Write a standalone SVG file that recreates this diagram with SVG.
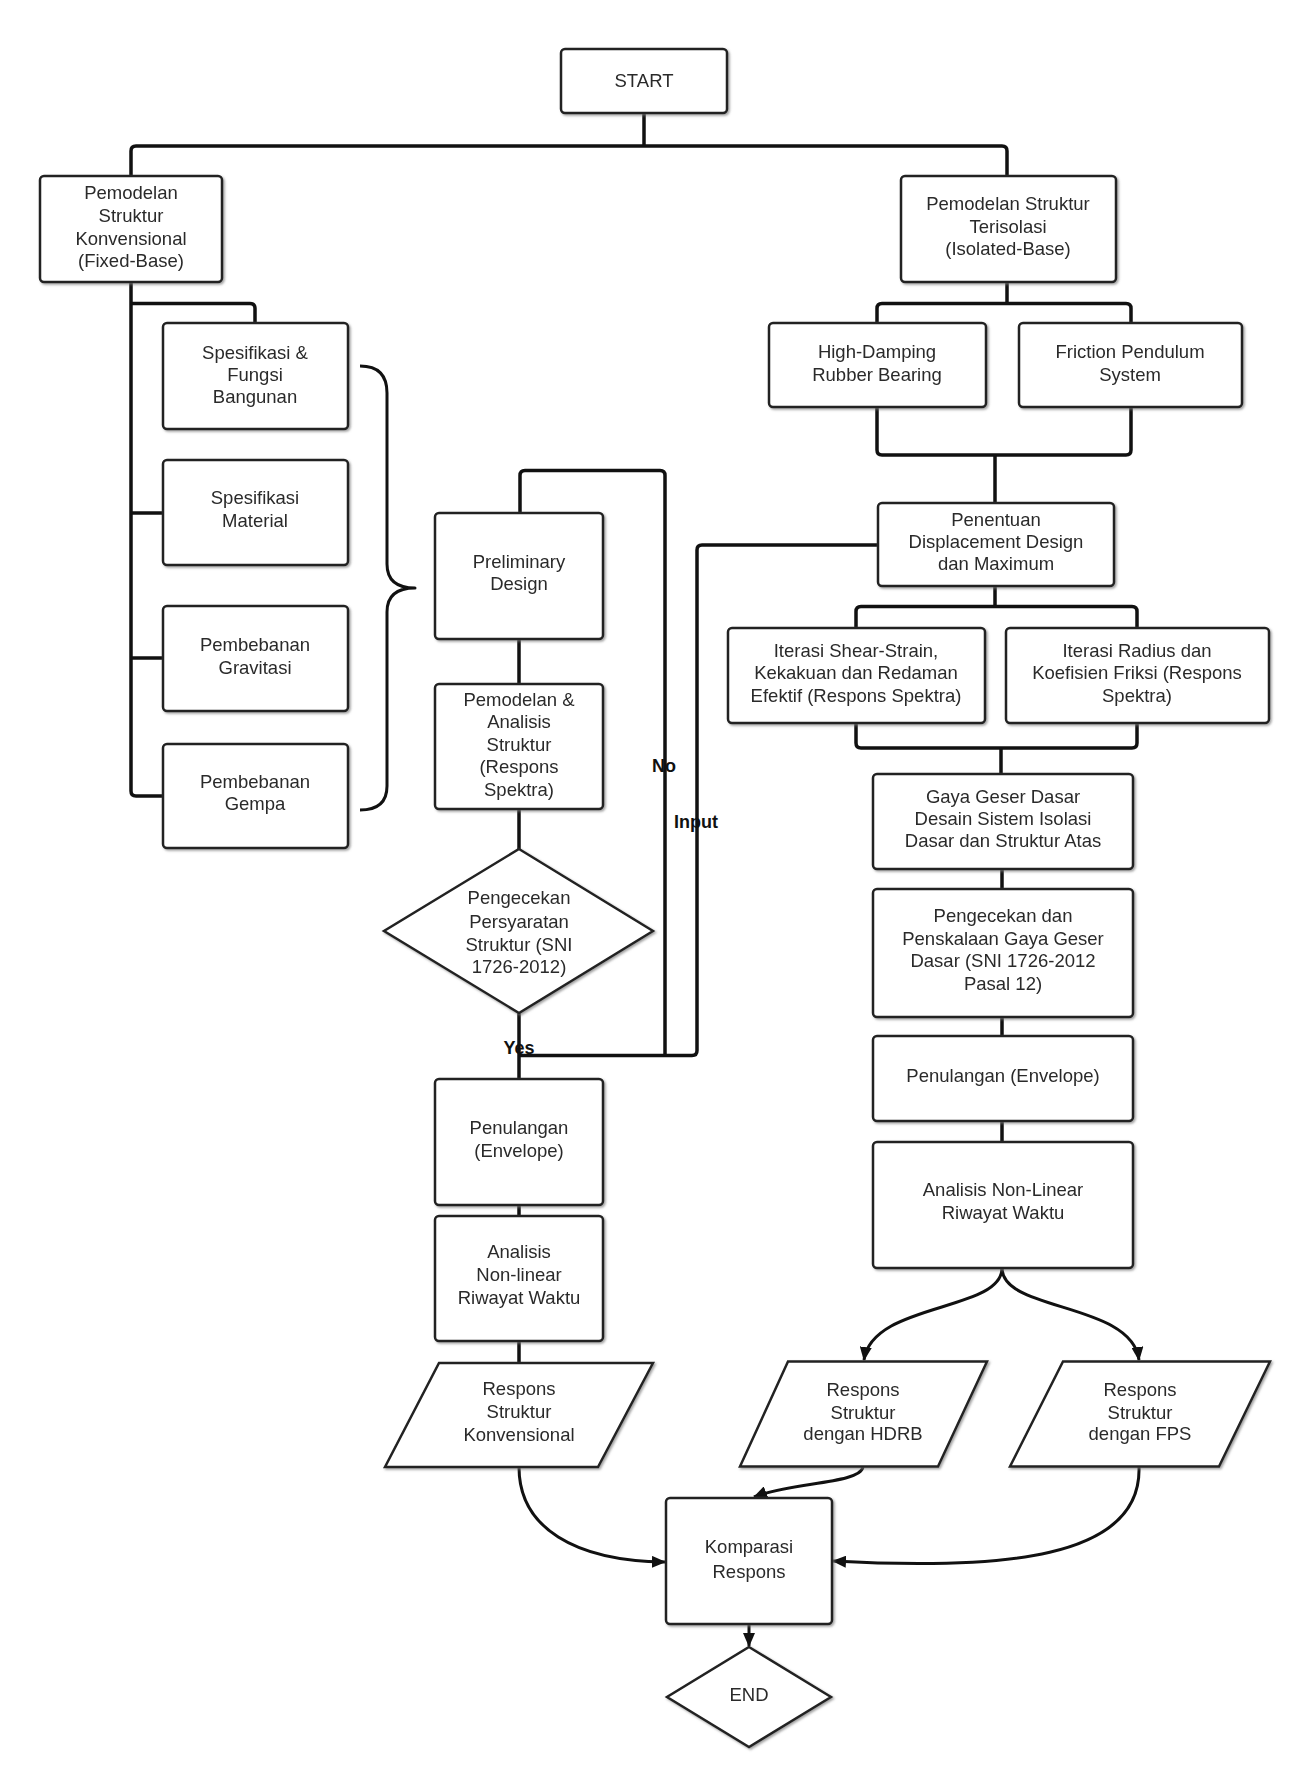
<svg xmlns="http://www.w3.org/2000/svg" width="1313" height="1792" viewBox="0 0 1313 1792">
<style>
.box{fill:#fff;stroke:#222;stroke-width:2.5}
.t{font-family:"Liberation Sans",Arial,sans-serif;font-size:18.5px;fill:#2a2a2a;text-anchor:middle}
.lbl{font-family:"Liberation Sans",Arial,sans-serif;font-size:18px;font-weight:bold;fill:#111;text-anchor:middle}
.c{fill:none;stroke:#111;stroke-width:3.5;stroke-linejoin:round;stroke-linecap:butt}
.a{fill:none;stroke:#111;stroke-width:3;marker-end:url(#arr)}
</style>
<defs>
<filter id="sh" x="-5%" y="-5%" width="112%" height="115%">
<feDropShadow dx="1.5" dy="1.5" stdDeviation="0.8" flood-color="#777" flood-opacity="0.7"/>
</filter>
<marker id="arr" markerUnits="userSpaceOnUse" markerWidth="14" markerHeight="12" refX="13" refY="6" orient="auto">
<path d="M0,0 L14,6 L0,12 z" fill="#111"/>
</marker>
</defs>
<rect width="1313" height="1792" fill="#fff"/>

<g id="connectors">
<path class="c" d="M644,113 V146"/>
<path class="c" d="M644,146 H136 Q131,146 131,151 V176"/>
<path class="c" d="M644,146 H1002 Q1007,146 1007,151 V176"/>
<path class="c" d="M131,282 V791 Q131,796 136,796 H163"/>
<path class="c" d="M131,303.5 H250 Q255,303.5 255,308.5 V323"/>
<path class="c" d="M131,513 H163"/>
<path class="c" d="M131,658 H163"/>
<path class="c" d="M1007,282 V303.5"/>
<path class="c" d="M1007,303.5 H882 Q877,303.5 877,308.5 V323"/>
<path class="c" d="M1007,303.5 H1126 Q1131,303.5 1131,308.5 V323"/>
<path class="c" d="M877,407 V450 Q877,455 882,455 H1126 Q1131,455 1131,450 V407"/>
<path class="c" d="M995,455 V503"/>
<path class="c" d="M995,586 V606.5"/>
<path class="c" d="M995,606.5 H861 Q856,606.5 856,611.5 V628"/>
<path class="c" d="M995,606.5 H1132 Q1137,606.5 1137,611.5 V628"/>
<path class="c" d="M856,723 V743 Q856,748 861,748 H1132 Q1137,748 1137,743 V723"/>
<path class="c" d="M1001,748 V774"/>
<path class="c" d="M1002,869 V889"/>
<path class="c" d="M1002,1017 V1036"/>
<path class="c" d="M1002,1121 V1142"/>
<path class="c" d="M519,639 V684"/>
<path class="c" d="M519,809 V849"/>
<path class="c" d="M519,1013 V1079"/>
<path class="c" d="M519,1205 V1216"/>
<path class="c" d="M519,1341 V1363"/>
<path class="c" d="M665,1055.5 V475.5 Q665,470.5 660,470.5 H525 Q520,470.5 520,475.5 V513"/>
<path class="c" d="M519,1055.5 H692 Q697,1055.5 697,1050.5 V550 Q697,545 702,545 H878"/>
<path class="a" d="M1002,1268 C1002,1312 872,1302 864,1360"/>
<path class="a" d="M1002,1268 C1002,1312 1132,1302 1139,1360"/>
<path class="a" d="M863,1467 C860,1484 790,1482 754,1497"/>
<path class="a" d="M1139,1467 C1142,1560 1000,1570 833,1561"/>
<path class="a" d="M519,1467 C519,1528 575,1561 665,1562"/>
<path class="a" d="M749,1624 V1646"/>
<text class="lbl" x="664" y="772">No</text>
<text class="lbl" x="696" y="828">Input</text>
<text class="lbl" x="519" y="1054">Yes</text>
</g>

<g id="start" filter="url(#sh)"><rect class="box" x="561" y="49" width="166" height="64" rx="4"/><text class="t" x="644" y="87">START</text></g>

<g id="n-konvensional" filter="url(#sh)"><rect class="box" x="40" y="176" width="182" height="106" rx="4"/>
<text class="t" x="131" y="199">Pemodelan</text><text class="t" x="131" y="222">Struktur</text><text class="t" x="131" y="245">Konvensional</text><text class="t" x="131" y="267">(Fixed-Base)</text></g>

<g id="n-terisolasi" filter="url(#sh)"><rect class="box" x="901" y="176" width="215" height="106" rx="4"/>
<text class="t" x="1008" y="210">Pemodelan Struktur</text><text class="t" x="1008" y="233">Terisolasi</text><text class="t" x="1008" y="255">(Isolated-Base)</text></g>

<g id="n-spesfungsi" filter="url(#sh)"><rect class="box" x="163" y="323" width="185" height="106" rx="4"/>
<text class="t" x="255" y="359">Spesifikasi &amp;</text><text class="t" x="255" y="381">Fungsi</text><text class="t" x="255" y="403">Bangunan</text></g>

<g id="n-material" filter="url(#sh)"><rect class="box" x="163" y="460" width="185" height="105" rx="4"/>
<text class="t" x="255" y="504">Spesifikasi</text><text class="t" x="255" y="527">Material</text></g>

<g id="n-gravitasi" filter="url(#sh)"><rect class="box" x="163" y="606" width="185" height="105" rx="4"/>
<text class="t" x="255" y="651">Pembebanan</text><text class="t" x="255" y="674">Gravitasi</text></g>

<g id="n-gempa" filter="url(#sh)"><rect class="box" x="163" y="744" width="185" height="104" rx="4"/>
<text class="t" x="255" y="788">Pembebanan</text><text class="t" x="255" y="810">Gempa</text></g>

<g id="brace"><path class="c" style="stroke-width:3" d="M360,366 Q387,366 387,393 V564 Q387,588 415,588 Q387,588 387,612 V786 Q387,810 360,810"/></g>

<g id="n-hdrb" filter="url(#sh)"><rect class="box" x="769" y="323" width="217" height="84" rx="4"/>
<text class="t" x="877" y="358">High-Damping</text><text class="t" x="877" y="381">Rubber Bearing</text></g>

<g id="n-fps" filter="url(#sh)"><rect class="box" x="1019" y="323" width="223" height="84" rx="4"/>
<text class="t" x="1130" y="358">Friction Pendulum</text><text class="t" x="1130" y="381">System</text></g>

<g id="n-preliminary" filter="url(#sh)"><rect class="box" x="435" y="513" width="168" height="126" rx="4"/>
<text class="t" x="519" y="568">Preliminary</text><text class="t" x="519" y="590">Design</text></g>

<g id="n-pemodelan-analisis" filter="url(#sh)"><rect class="box" x="435" y="684" width="168" height="125" rx="4"/>
<text class="t" x="519" y="706">Pemodelan &amp;</text><text class="t" x="519" y="728">Analisis</text><text class="t" x="519" y="751">Struktur</text><text class="t" x="519" y="773">(Respons</text><text class="t" x="519" y="796">Spektra)</text></g>

<g id="n-pengecekan" filter="url(#sh)"><polygon class="box" points="519,849 653,931 519,1013 384,931"/>
<text class="t" x="519" y="904">Pengecekan</text><text class="t" x="519" y="928">Persyaratan</text><text class="t" x="519" y="951">Struktur (SNI</text><text class="t" x="519" y="973">1726-2012)</text></g>

<g id="n-penulangan-l" filter="url(#sh)"><rect class="box" x="435" y="1079" width="168" height="126" rx="4"/>
<text class="t" x="519" y="1134">Penulangan</text><text class="t" x="519" y="1157">(Envelope)</text></g>

<g id="n-analisis-l" filter="url(#sh)"><rect class="box" x="435" y="1216" width="168" height="125" rx="4"/>
<text class="t" x="519" y="1258">Analisis</text><text class="t" x="519" y="1281">Non-linear</text><text class="t" x="519" y="1304">Riwayat Waktu</text></g>

<g id="n-respons-konv" filter="url(#sh)"><polygon class="box" points="439,1363 653,1363 598,1467 385,1467"/>
<text class="t" x="519" y="1395">Respons</text><text class="t" x="519" y="1418">Struktur</text><text class="t" x="519" y="1441">Konvensional</text></g>

<g id="n-penentuan" filter="url(#sh)"><rect class="box" x="878" y="503" width="236" height="83" rx="4"/>
<text class="t" x="996" y="526">Penentuan</text><text class="t" x="996" y="548">Displacement Design</text><text class="t" x="996" y="570">dan Maximum</text></g>

<g id="n-iterasi-shear" filter="url(#sh)"><rect class="box" x="728" y="628" width="257" height="95" rx="4"/>
<text class="t" x="856" y="657">Iterasi Shear-Strain,</text><text class="t" x="856" y="679">Kekakuan dan Redaman</text><text class="t" x="856" y="702">Efektif (Respons Spektra)</text></g>

<g id="n-iterasi-radius" filter="url(#sh)"><rect class="box" x="1006" y="628" width="263" height="95" rx="4"/>
<text class="t" x="1137" y="657">Iterasi Radius dan</text><text class="t" x="1137" y="679">Koefisien Friksi (Respons</text><text class="t" x="1137" y="702">Spektra)</text></g>

<g id="n-gaya-geser" filter="url(#sh)"><rect class="box" x="873" y="774" width="260" height="95" rx="4"/>
<text class="t" x="1003" y="803">Gaya Geser Dasar</text><text class="t" x="1003" y="825">Desain Sistem Isolasi</text><text class="t" x="1003" y="847">Dasar dan Struktur Atas</text></g>

<g id="n-pengecekan-r" filter="url(#sh)"><rect class="box" x="873" y="889" width="260" height="128" rx="4"/>
<text class="t" x="1003" y="922">Pengecekan dan</text><text class="t" x="1003" y="945">Penskalaan Gaya Geser</text><text class="t" x="1003" y="967">Dasar (SNI 1726-2012</text><text class="t" x="1003" y="990">Pasal 12)</text></g>

<g id="n-penulangan-r" filter="url(#sh)"><rect class="box" x="873" y="1036" width="260" height="85" rx="4"/>
<text class="t" x="1003" y="1082">Penulangan (Envelope)</text></g>

<g id="n-analisis-r" filter="url(#sh)"><rect class="box" x="873" y="1142" width="260" height="126" rx="4"/>
<text class="t" x="1003" y="1196">Analisis Non-Linear</text><text class="t" x="1003" y="1219">Riwayat Waktu</text></g>

<g id="n-respons-hdrb" filter="url(#sh)"><polygon class="box" points="788,1361.5 987,1361.5 938,1466.5 740,1466.5"/>
<text class="t" x="863" y="1396">Respons</text><text class="t" x="863" y="1419">Struktur</text><text class="t" x="863" y="1440">dengan HDRB</text></g>

<g id="n-respons-fps" filter="url(#sh)"><polygon class="box" points="1063,1361.5 1270,1361.5 1219,1466.5 1010,1466.5"/>
<text class="t" x="1140" y="1396">Respons</text><text class="t" x="1140" y="1419">Struktur</text><text class="t" x="1140" y="1440">dengan FPS</text></g>

<g id="n-komparasi" filter="url(#sh)"><rect class="box" x="666" y="1498" width="166" height="126" rx="4"/>
<text class="t" x="749" y="1553">Komparasi</text><text class="t" x="749" y="1578">Respons</text></g>

<g id="end" filter="url(#sh)"><polygon class="box" points="749,1647 831,1697 749,1747 667,1697"/>
<text class="t" x="749" y="1701">END</text></g>
</svg>
